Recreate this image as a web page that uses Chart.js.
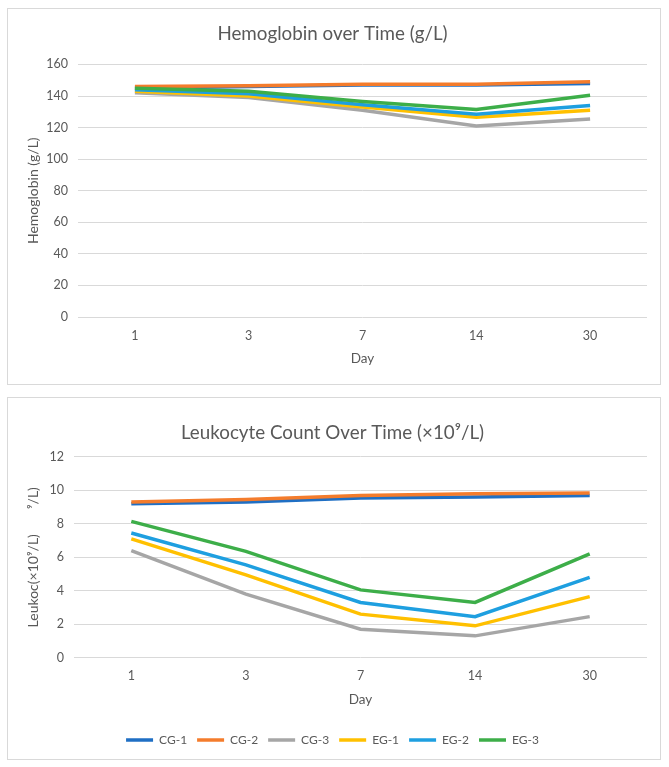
<!DOCTYPE html>
<html>
<head>
<meta charset="utf-8">
<script src="https://cdn.jsdelivr.net/npm/chart.js@4.4.1/dist/chart.umd.min.js"></script>
<style>
    body { margin: 0; background: #ffffff; }
    .box { position: absolute; left: 7px; width: 652px; border: 1px solid #d9d9d9; background: #fff; }
    #boxTop { top: 8px; height: 375px; }
    #boxBottom { top: 397px; height: 361px; }
    canvas { display: block; }
</style>
</head>
<body>
<div class="box" id="boxTop"><canvas id="hbChart" width="652" height="375"></canvas></div>
<div class="box" id="boxBottom"><canvas id="wbcChart" width="652" height="361"></canvas></div>
<script>
const days = ["1", "3", "7", "14", "30"];
const seriesNames = ["CG-1", "CG-2", "CG-3", "EG-1", "EG-2", "EG-3"];
const seriesColors = ["#1f6fc4", "#f47c2c", "#a6a6a6", "#ffc000", "#1e9fe0", "#3dae49"];

/* Hemoglobin (g/L) */
const hbCG1 = [145, 146, 147, 147, 148];
const hbCG2 = [146, 146.5, 147.5, 147.5, 149];
const hbCG3 = [142, 139, 131, 121, 125.5];
const hbEG1 = [143, 140, 133, 126.5, 131];
const hbEG2 = [144, 141.5, 134.5, 128.5, 134];
const hbEG3 = [145, 143, 136.5, 131.5, 140.5];

/* Leukocytes (x10^9/L) */
const wbcCG1 = [9.2, 9.3, 9.55, 9.6, 9.7];
const wbcCG2 = [9.3, 9.45, 9.7, 9.8, 9.85];
const wbcCG3 = [6.4, 3.8, 1.7, 1.3, 2.45];
const wbcEG1 = [7.1, 4.95, 2.6, 1.9, 3.65];
const wbcEG2 = [7.45, 5.55, 3.3, 2.45, 4.8];
const wbcEG3 = [8.15, 6.35, 4.05, 3.3, 6.2];

const FONT = "Lato, 'Open Sans', sans-serif";
const TEXT_COLOR = "#595959";
const GRID_COLOR = "#d9d9d9";

function makeDatasets(rows) {
    // later series drawn on top, like the original
    return rows.map((values, i) => ({
        label: seriesNames[i],
        data: values,
        borderColor: seriesColors[i],
        backgroundColor: seriesColors[i],
        borderWidth: 3.5,
        pointRadius: 0,
        tension: 0,
        order: rows.length - i
    }));
}

function buildOptions(cfg) {
    return {
        responsive: false,
        animation: false,
        layout: { padding: { left: 10, right: 13, top: 0, bottom: cfg.bottomPad } },
        plugins: {
            title: {
                display: true,
                text: cfg.title,
                color: TEXT_COLOR,
                font: { family: FONT, size: 18.8, weight: "normal" },
                padding: { top: cfg.titleTop, bottom: cfg.titleBottom }
            },
            legend: {
                display: cfg.legend,
                position: "bottom",
                labels: {
                    color: TEXT_COLOR,
                    font: { family: FONT, size: 12 },
                    usePointStyle: true,
                    pointStyle: "line",
                    pointStyleWidth: 27,
                    padding: 10,
                    sort: (a, b) => a.datasetIndex - b.datasetIndex
                }
            },
            tooltip: { enabled: false }
        },
        scales: {
            x: {
                offset: true,
                afterFit: (scale) => { scale.height = cfg.xHeight; },
                grid: { display: false, drawTicks: false },
                border: { display: false },
                ticks: { color: TEXT_COLOR, font: { family: FONT, size: 12.5 }, padding: 11 },
                title: {
                    display: true,
                    text: "Day",
                    color: TEXT_COLOR,
                    font: { family: FONT, size: 13.5 },
                    padding: { top: 4, bottom: cfg.dayBottom }
                }
            },
            y: {
                min: 0,
                max: cfg.max,
                afterFit: (scale) => { scale.width = cfg.axisWidth; },
                grid: { color: GRID_COLOR, drawTicks: false },
                border: { display: false },
                ticks: { stepSize: cfg.step, color: TEXT_COLOR, font: { family: FONT, size: 12.5 }, padding: 10 },
                title: {
                    display: true,
                    text: cfg.yTitle,
                    color: TEXT_COLOR,
                    font: { family: FONT, size: 14 },
                    padding: { top: 6.6, bottom: 4 }
                }
            }
        }
    };
}

new Chart(document.getElementById("hbChart").getContext("2d"), {
    type: "line",
    data: { labels: days, datasets: makeDatasets([hbCG1, hbCG2, hbCG3, hbEG1, hbEG2, hbEG3]) },
    options: buildOptions({
        title: "Hemoglobin over Time (g/L)",
        yTitle: "Hemoglobin (g/L)",
        max: 160, step: 20,
        titleTop: 13.2, titleBottom: 19.7,
        bottomPad: 14.8, dayBottom: 2, xHeight: 52.2,
        axisWidth: 60, legend: false
    })
});

new Chart(document.getElementById("wbcChart").getContext("2d"), {
    type: "line",
    data: { labels: days, datasets: makeDatasets([wbcCG1, wbcCG2, wbcCG3, wbcEG1, wbcEG2, wbcEG3]) },
    options: buildOptions({
        title: "Leukocyte Count Over Time (×10⁹/L)",
        yTitle: "Leukoc(×10⁹/L)       ⁹/L)",
        max: 12, step: 2,
        titleTop: 23.2, titleBottom: 13.2,
        bottomPad: 3, dayBottom: 16.2, xHeight: 66.4,
        axisWidth: 56, legend: true
    })
});
</script>
</body>
</html>
